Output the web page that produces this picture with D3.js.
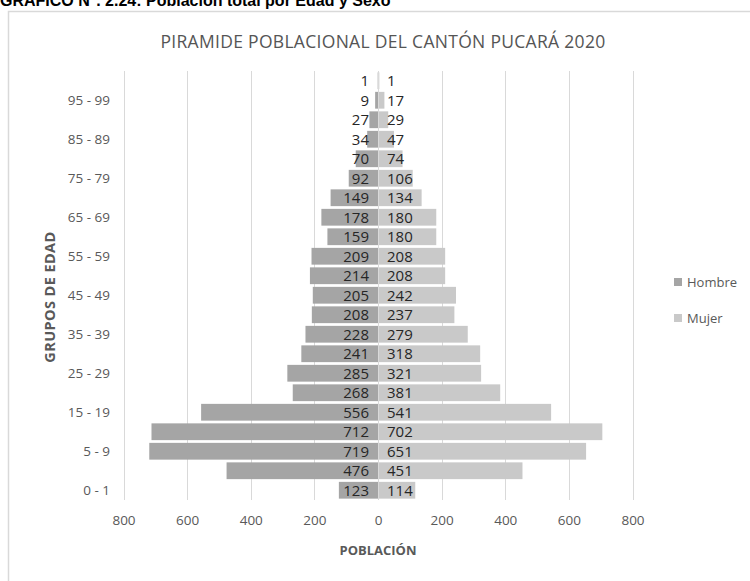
<!DOCTYPE html>
<html>
<head>
<meta charset="utf-8">
<script src="https://cdn.jsdelivr.net/npm/d3@7"></script>
<style>
  body { margin: 0; background: #ffffff; }
  svg { display: block; font-family: "Open Sans", sans-serif; }
</style>
</head>
<body>
<svg class="chart" width="750" height="581"></svg>
<script>
// PIRAMIDE POBLACIONAL - DATA (bottom to top)
var ageGroups = ["0 - 1", "1 - 4", "5 - 9", "10 - 14", "15 - 19", "20 - 24", "25 - 29",
    "30 - 34", "35 - 39", "40 - 44", "45 - 49", "50 - 54", "55 - 59", "60 - 64",
    "65 - 69", "70 - 74", "75 - 79", "80 - 84", "85 - 89", "90 - 94", "95 - 99", "100 y más"];
var hombre = [123, 476, 719, 712, 556, 268, 285, 241, 228, 208, 205, 214, 209, 159, 178, 149, 92, 70, 34, 27, 9, 1];
var mujer = [114, 451, 651, 702, 541, 381, 321, 318, 279, 237, 242, 208, 208, 180, 180, 134, 106, 74, 47, 29, 17, 1];
var shownTicks = ["0 - 1", "5 - 9", "15 - 19", "25 - 29", "35 - 39", "45 - 49", "55 - 59",
    "65 - 69", "75 - 79", "85 - 89", "95 - 99"];
var xTicks = [-800, -600, -400, -200, 0, 200, 400, 600, 800];
var seriesNames = ["Hombre", "Mujer"];

var colorHombre = "#a5a5a5";
var colorMujer = "#c9c9c9";
var textGray = "#595959";

var canvas = d3.select(".chart");

// header above the chart box (cut at the top, as in the source)
canvas.append("text")
    .attr("x", 0)
    .attr("y", 6)
    .style("font-family", "'Liberation Sans', Arial, sans-serif")
    .style("font-weight", "bold")
    .style("font-size", "16px")
    .attr("fill", "#000")
    .text("GRAFICO N°. 2.24: Población total por Edad y Sexo");

// chart frame
canvas.append("rect")
    .attr("x", 8.5)
    .attr("y", 11.5)
    .attr("width", 760)
    .attr("height", 600)
    .attr("fill", "none")
    .attr("stroke", "#d9d9d9")
    .attr("stroke-width", 1.5);

// scales
var x = d3.scaleLinear()
    .domain([-800, 800])
    .range([123.5, 632.5]);

var y = d3.scaleBand()
    .domain(ageGroups)
    .range([500, 71])
    .paddingInner(0.14)
    .paddingOuter(0.07);

// gridlines
canvas.append("g")
    .selectAll("line")
    .data(xTicks)
    .enter().append("line")
    .attr("x1", function (d) { return Math.round(x(d)) + 0.5; })
    .attr("x2", function (d) { return Math.round(x(d)) + 0.5; })
    .attr("y1", 71)
    .attr("y2", 500)
    .attr("stroke", "#d9d9d9")
    .attr("stroke-width", 1);

// bars
var rows = ageGroups.map(function (g, i) {
    return { group: g, hombre: hombre[i], mujer: mujer[i] };
});

canvas.append("g")
    .selectAll("rect")
    .data(rows)
    .enter().append("rect")
    .attr("x", function (d) { return x(-d.hombre); })
    .attr("width", function (d) { return x(0) - x(-d.hombre); })
    .attr("y", function (d) { return y(d.group); })
    .attr("height", y.bandwidth())
    .attr("fill", colorHombre);

canvas.append("g")
    .selectAll("rect")
    .data(rows)
    .enter().append("rect")
    .attr("x", x(0) + 1)
    .attr("width", function (d) { return x(d.mujer) - x(0); })
    .attr("y", function (d) { return y(d.group); })
    .attr("height", y.bandwidth())
    .attr("fill", colorMujer);

// data labels (inside base)
var labels = canvas.append("g")
    .style("font-size", "15px")
    .attr("fill", "#262626");

labels.selectAll("text.h")
    .data(rows)
    .enter().append("text")
    .attr("class", "h")
    .attr("x", x(0) - 9)
    .attr("y", function (d) { return y(d.group) + y.bandwidth() / 2; })
    .attr("dy", "0.36em")
    .attr("text-anchor", "end")
    .text(function (d) { return d.hombre; });

labels.selectAll("text.m")
    .data(rows)
    .enter().append("text")
    .attr("class", "m")
    .attr("x", x(0) + 9)
    .attr("y", function (d) { return y(d.group) + y.bandwidth() / 2; })
    .attr("dy", "0.36em")
    .attr("text-anchor", "start")
    .text(function (d) { return d.mujer; });

// axes
var yAxis = d3.axisLeft(y)
    .tickValues(shownTicks)
    .tickSize(0)
    .tickPadding(0);

var yAxisGroup = canvas.append("g")
    .attr("transform", "translate(110,0)")
    .call(yAxis);
yAxisGroup.select(".domain").remove();
yAxisGroup.selectAll("text")
    .style("font-family", "'Open Sans', sans-serif")
    .style("font-size", "13.5px")
    .attr("fill", textGray);

var xAxis = d3.axisBottom(x)
    .tickValues(xTicks)
    .tickSize(0)
    .tickPadding(0)
    .tickFormat(function (d) { return Math.abs(d); });

var xAxisGroup = canvas.append("g")
    .attr("transform", "translate(0,515)")
    .call(xAxis);
xAxisGroup.select(".domain").remove();
xAxisGroup.selectAll("text")
    .style("font-family", "'Open Sans', sans-serif")
    .style("font-size", "13.5px")
    .attr("fill", textGray);

// chart title
canvas.append("text")
    .attr("x", 383)
    .attr("y", 48)
    .attr("text-anchor", "middle")
    .style("font-size", "17.5px")
    .style("letter-spacing", "0.3px")
    .attr("fill", "#555555")
    .text("PIRAMIDE POBLACIONAL DEL CANTÓN PUCARÁ 2020");

// axis titles
canvas.append("text")
    .attr("transform", "translate(55,297) rotate(-90)")
    .attr("text-anchor", "middle")
    .style("font-size", "14.5px")
    .style("letter-spacing", "0.4px")
    .style("font-weight", "bold")
    .attr("fill", textGray)
    .text("GRUPOS DE EDAD");

canvas.append("text")
    .attr("x", 378)
    .attr("y", 555)
    .attr("text-anchor", "middle")
    .style("font-size", "13px")
    .style("font-weight", "bold")
    .attr("fill", textGray)
    .text("POBLACIÓN");

// legend
var legend = canvas.append("g")
    .attr("transform", "translate(674,282)")
    .selectAll("g")
    .data(seriesNames)
    .enter().append("g")
    .attr("transform", function (d, i) { return "translate(0," + (i * 36) + ")"; });

legend.append("rect")
    .attr("x", 0)
    .attr("y", -4)
    .attr("width", 8)
    .attr("height", 8)
    .attr("fill", function (d, i) { return i === 0 ? colorHombre : colorMujer; });

legend.append("text")
    .attr("x", 13)
    .attr("y", 0)
    .attr("dy", "0.35em")
    .style("font-size", "13px")
    .attr("fill", textGray)
    .text(function (d) { return d; });
</script>
</body>
</html>
